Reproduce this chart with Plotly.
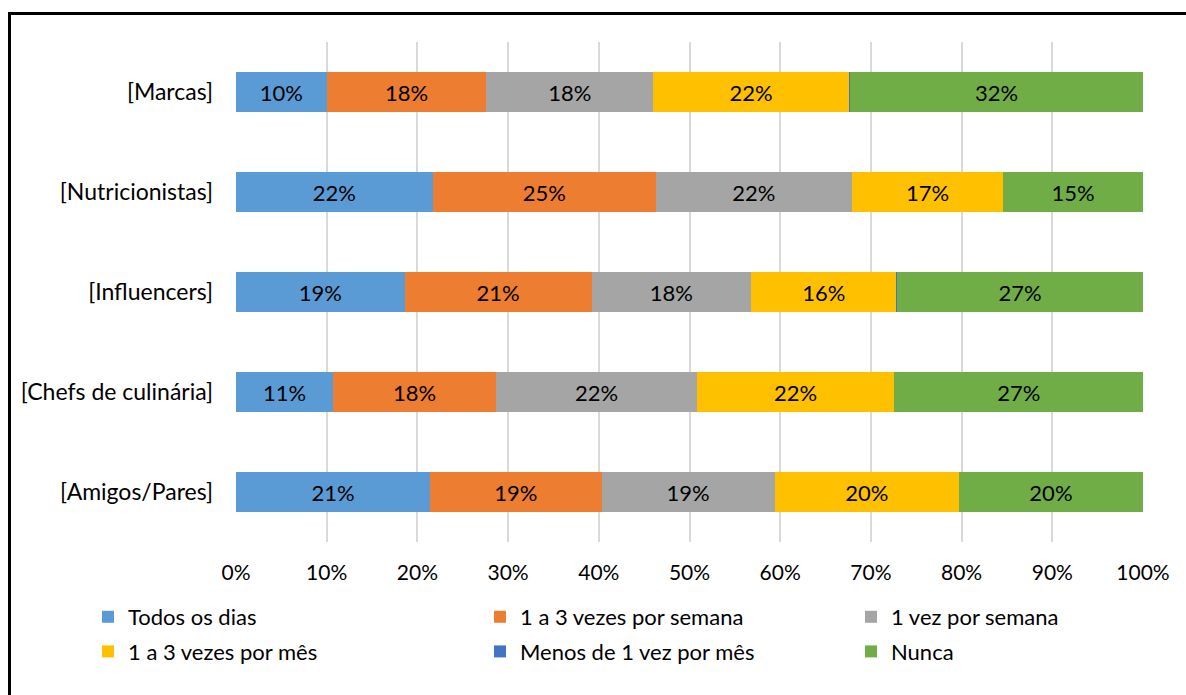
import plotly.graph_objects as go

categories = ["[Marcas]", "[Nutricionistas]", "[Influencers]", "[Chefs de culinária]", "[Amigos/Pares]"]
series_names = ["Todos os dias", "1 a 3 vezes por semana", "1 vez por semana",
                "1 a 3 vezes por mês", "Menos de 1 vez por mês", "Nunca"]
todos_os_dias = [10.0, 21.7, 18.6, 10.7, 21.4]
uma_a_tres_semana = [17.6, 24.6, 20.6, 18.0, 18.9]
uma_vez_semana = [18.4, 21.6, 17.6, 22.1, 19.1]
uma_a_tres_mes = [21.6, 16.7, 16.0, 21.8, 20.3]
menos_uma_mes = [0.1, 0.0, 0.1, 0.0, 0.0]
nunca = [32.3, 15.4, 27.1, 27.4, 20.3]
x_ticks = [0, 10, 20, 30, 40, 50, 60, 70, 80, 90, 100]

values = [todos_os_dias, uma_a_tres_semana, uma_vez_semana, uma_a_tres_mes, menos_uma_mes, nunca]
colors = ["#5B9BD5", "#ED7D31", "#A5A5A5", "#FFC000", "#4472C4", "#70AD47"]
legend_ids = ["legend", "legend2", "legend3", "legend", "legend2", "legend3"]
show_text = [True, True, True, True, False, True]

FONT = "Lato"

W, H = 1186, 695
L, R, T, B = 236, 43, 42, 153
pw, ph = W - L - R, H - T - B


def px_x(x):
    return (x - L) / pw


def px_y(y):
    return (H - B - y) / ph


fig = go.Figure()
for name, vals, col, lg, st in zip(series_names, values, colors, legend_ids, show_text):
    fig.add_trace(go.Bar(
        y=categories, x=vals, name=name, orientation="h",
        marker=dict(color=col, line=dict(width=0)),
        text=[f"{v:.0f}%" for v in vals] if st else None,
        textposition="inside" if st else "none",
        insidetextanchor="middle",
        textangle=0,
        constraintext="none",
        textfont=dict(family=FONT, size=22, color="#000000"),
        legend=lg,
        legendgroup=name,
        hoverinfo="x+name",
    ))

legend_common = dict(
    orientation="v", xanchor="left", yanchor="top",
    font=dict(family=FONT, size=22, color="#000000"),
    bgcolor="rgba(0,0,0,0)", tracegroupgap=3, itemwidth=30,
)

fig.update_layout(
    width=W, height=H,
    margin=dict(l=L, r=R, t=T, b=B, pad=0),
    barmode="stack",
    bargap=0.605,
    plot_bgcolor="white",
    paper_bgcolor="white",
    font=dict(family=FONT, size=22, color="#000000"),
    showlegend=True,
    legend=dict(x=px_x(88), y=px_y(596), **legend_common),
    legend2=dict(x=px_x(480), y=px_y(596), **legend_common),
    legend3=dict(x=px_x(851), y=px_y(596), **legend_common),
    xaxis=dict(
        range=[0, 100], tickvals=x_ticks, ticktext=[f"{t}%" for t in x_ticks],
        showgrid=True, gridcolor="#D9D9D9", gridwidth=1.5,
        zeroline=False, showline=False, ticks="", ticklabelstandoff=16,
        tickfont=dict(family=FONT, size=21, color="#000000"),
        fixedrange=True,
    ),
    yaxis=dict(
        categoryorder="array", categoryarray=categories, autorange="reversed",
        showgrid=False, zeroline=False, showline=False, ticks="",
        ticklabelstandoff=22,
        tickfont=dict(family=FONT, size=23, color="#000000"),
        fixedrange=True,
    ),
    shapes=[
        dict(type="path", xref="paper", yref="paper",
             path=f"M {px_x(9.5)},{px_y(740)} L {px_x(9.5)},{px_y(13.5)} L {px_x(1200)},{px_y(13.5)}",
             line=dict(color="#000000", width=3)),
    ],
)

fig.write_html("out.html")
